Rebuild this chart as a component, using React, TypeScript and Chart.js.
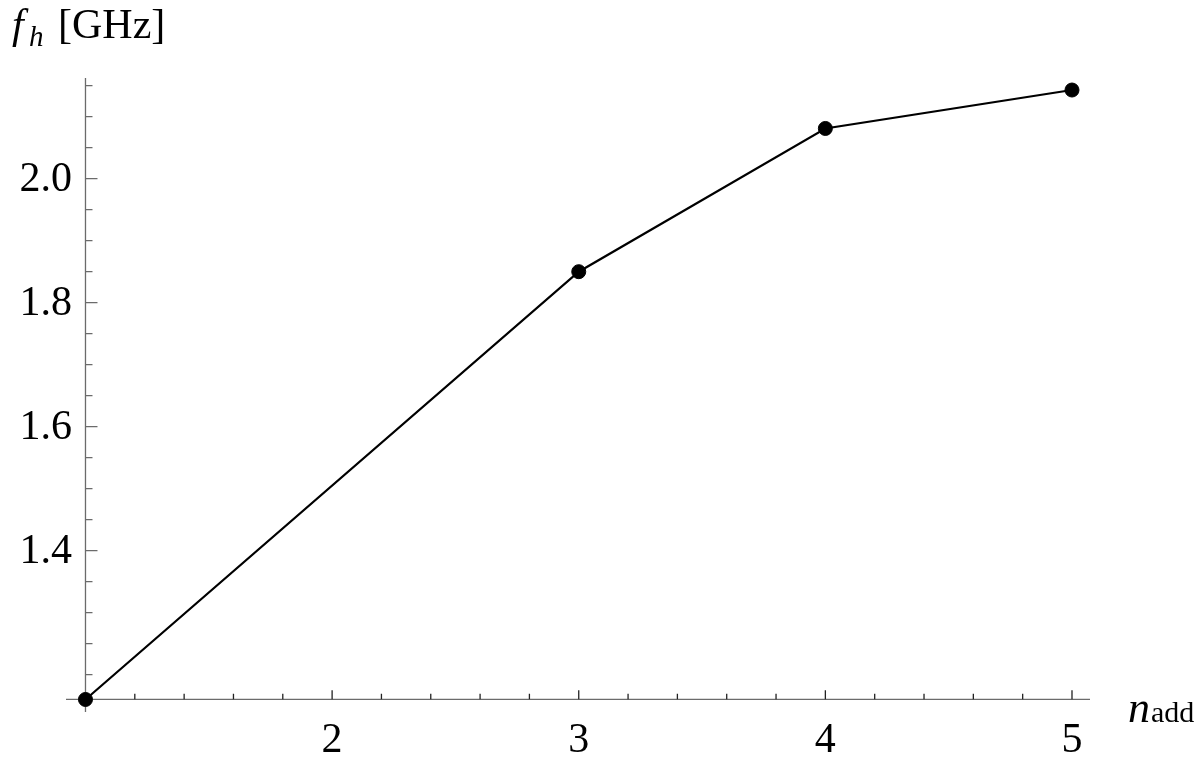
import React, { useEffect, useRef } from "react";
import { Chart, registerables } from "chart.js";

Chart.register(...registerables);

const nAdd: number[] = [1, 3, 4, 5];
const fh: number[] = [1.16, 1.85, 2.081, 2.143];
const xMajorTicks: number[] = [2, 3, 4, 5];
const xMinorTicks: number[] = [1.2, 1.4, 1.6, 1.8, 2.2, 2.4, 2.6, 2.8, 3.2, 3.4, 3.6, 3.8, 4.2, 4.4, 4.6, 4.8];
const yMajorTicks: number[] = [1.4, 1.6, 1.8, 2.0];
const yTickLabels: string[] = ["1.4", "1.6", "1.8", "2.0"];
const yMinorTicks: number[] = [1.2, 1.25, 1.3, 1.35, 1.45, 1.5, 1.55, 1.65, 1.7, 1.75, 1.85, 1.9, 1.95, 2.05, 2.1, 2.15];
const axisCrossX = 1;
const axisCrossY = 1.1603;

const FONT = '"Liberation Serif", "DejaVu Serif", serif';

const axesPlugin = {
  id: "mmaAxes",
  beforeDatasetsDraw(chart: any) {
    const ctx = chart.ctx;
    const xs = chart.scales.x;
    const ys = chart.scales.y;
    const area = chart.chartArea;
    const x0 = xs.getPixelForValue(axisCrossX);
    const y0 = ys.getPixelForValue(axisCrossY);
    ctx.save();
    ctx.strokeStyle = "#6b6b6b";
    ctx.lineWidth = 1.3;
    ctx.beginPath();
    ctx.moveTo(area.left, y0);
    ctx.lineTo(area.right, y0);
    ctx.moveTo(x0, area.top);
    ctx.lineTo(x0, area.bottom);
    ctx.stroke();
    ctx.strokeStyle = "#222";
    ctx.beginPath();
    for (const v of xMajorTicks) {
      const p = xs.getPixelForValue(v);
      ctx.moveTo(p, y0);
      ctx.lineTo(p, y0 - 9);
    }
    for (const v of xMinorTicks) {
      const p = xs.getPixelForValue(v);
      ctx.moveTo(p, y0);
      ctx.lineTo(p, y0 - 5.5);
    }
    ctx.stroke();
    ctx.strokeStyle = "#6b6b6b";
    ctx.beginPath();
    for (const v of yMajorTicks) {
      const p = ys.getPixelForValue(v);
      ctx.moveTo(x0, p);
      ctx.lineTo(x0 + 12, p);
    }
    for (const v of yMinorTicks) {
      const p = ys.getPixelForValue(v);
      ctx.moveTo(x0, p);
      ctx.lineTo(x0 + 7, p);
    }
    ctx.stroke();
    ctx.fillStyle = "#000";
    ctx.font = `42px ${FONT}`;
    ctx.textAlign = "center";
    ctx.textBaseline = "alphabetic";
    for (const v of xMajorTicks) {
      ctx.fillText(String(v), xs.getPixelForValue(v), 752);
    }
    ctx.textAlign = "right";
    ctx.textBaseline = "middle";
    yMajorTicks.forEach((v, i) => {
      ctx.fillText(yTickLabels[i], 72, ys.getPixelForValue(v) + 1);
    });
    ctx.textAlign = "left";
    ctx.textBaseline = "alphabetic";
    ctx.font = `italic 42px ${FONT}`;
    ctx.fillText("f", 12, 38);
    ctx.font = `italic 29px ${FONT}`;
    ctx.fillText("h", 29, 46);
    ctx.font = `42px ${FONT}`;
    ctx.fillText("[GHz]", 58, 38);
    ctx.font = `italic 44px ${FONT}`;
    ctx.fillText("n", 1128, 722);
    ctx.font = `30px ${FONT}`;
    ctx.fillText("add", 1151, 722);
    ctx.restore();
  },
};

export default function App() {
  const ref = useRef<HTMLCanvasElement | null>(null);
  useEffect(() => {
    document.body.style.margin = "0";
    if (!ref.current) return;
    const chart = new Chart(ref.current, {
      type: "scatter",
      data: {
        datasets: [
          {
            data: nAdd.map((x, i) => ({ x, y: fh[i] })),
            showLine: true,
            borderColor: "#000",
            backgroundColor: "#000",
            borderWidth: 2.2,
            pointRadius: 7,
            pointHoverRadius: 7,
            pointBorderWidth: 1,
            pointBorderColor: "#000",
            clip: false,
          },
        ],
      },
      options: {
        animation: false,
        responsive: false,
        events: [],
        layout: { padding: { left: 66, right: 110, top: 78, bottom: 46 } },
        plugins: { legend: { display: false }, tooltip: { enabled: false } },
        scales: {
          x: { type: "linear", display: false, min: 0.921, max: 5.073 },
          y: { type: "linear", display: false, min: 1.1398, max: 2.1624 },
        },
      },
      plugins: [axesPlugin],
    });
    return () => chart.destroy();
  }, []);
  return (
    <div style={{ width: 1200, height: 758, background: "#fff" }}>
      <canvas ref={ref} width={1200} height={758} style={{ display: "block" }} />
    </div>
  );
}
